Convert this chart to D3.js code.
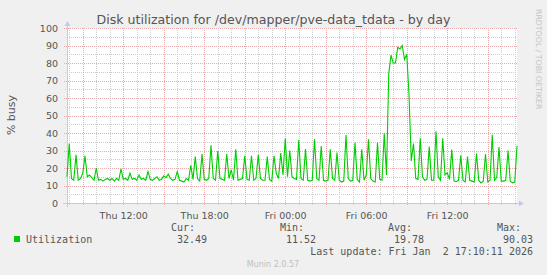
<!DOCTYPE html>
<html>
<head>
<meta charset="utf-8">
<script src="https://cdn.jsdelivr.net/npm/d3@7"></script>
<style>
  body { margin: 0; background: #F0F0F0; }
  text { white-space: pre; }
</style>
</head>
<body>
<svg id="chart" width="547" height="275"></svg>
<script>
// Series: disk utilization (% busy), one sample every 10 minutes
const startTime = new Date(2026, 0, 1, 7, 50, 11);
const endTime = new Date(2026, 0, 2, 17, 10, 11);
const stepMinutes = 10;
const utilization = [
  15, 34, 14, 13, 27.5, 13, 14, 17, 27, 15,
  16, 14.5, 13, 20, 13, 13.5, 12.5, 13.5, 14, 13,
  14, 12.5, 14, 13, 19.5, 13.5, 14, 13, 17, 13.5,
  14, 13, 16, 13.5, 14, 13, 18, 13.5, 13, 14,
  15, 13, 13.5, 15.5, 14.5, 16.5, 14, 13, 13.5, 18,
  13, 12.5, 12, 14, 13, 21.5, 13.5, 26.5, 14, 12.5,
  28, 13.5, 13, 14, 33, 14, 13, 29.7, 14, 13.5,
  13, 28, 14, 19, 13, 30.7, 13, 13.5, 14, 27,
  13.5, 13, 27, 13, 14, 27.5, 14, 13, 13, 26.5,
  13.5, 12.5, 27, 17, 14, 28.5, 16, 37, 15, 30,
  15, 14, 13.5, 36, 14, 13, 30.8, 13, 12.5, 13,
  36.4, 14, 13, 32.6, 13, 12.5, 13, 30.7, 14, 13,
  28.8, 13, 12, 12.5, 38.9, 14, 12.5, 13, 34.5, 13.5,
  12, 30.7, 13, 16, 36.4, 14, 12.5, 12, 34.5, 13.5,
  13, 39.8, 16, 74, 84.5, 80, 80, 89, 88, 90,
  82, 85, 62, 24, 34, 14, 13.5, 37, 15, 13,
  13.5, 32.2, 13, 13, 41, 15, 13, 37, 16, 17.3,
  13.5, 30.5, 12.7, 12.2, 13, 27.2, 13, 12, 26.5, 13,
  12.5, 12, 28.3, 13, 11.5, 12.5, 28, 12, 13, 39,
  13, 14.5, 32, 12.5, 12.5, 13, 30, 12.5, 11.5, 12,
  32.49
];

// Legend
const seriesName = "Utilization";
const statLabels = ["Cur:", "Min:", "Avg:", "Max:"];
const statValues = ["32.49", "11.52", "19.78", "90.03"];
const lastUpdate = "Last update: Fri Jan  2 17:10:11 2026";

// Axis ticks
const yMajor = d3.range(0, 101, 10);
const yMinor = d3.range(5, 100, 10);

const svg = d3.select("#chart");
const plotLeft = 67, plotRight = 517, plotTop = 28, plotBottom = 203;

const x = d3.scaleTime().domain([startTime, endTime]).range([plotLeft, plotRight]);
const y = d3.scaleLinear().domain([0, 100]).range([plotBottom, plotTop]);

const textColor = "#555";
const gridMinor = "#CDCDCD";
const gridMajor = "#E8AAAA";
const axisColor = "#C4C8F4";

// plot background
svg.append("rect")
  .attr("x", plotLeft).attr("y", plotTop)
  .attr("width", plotRight - plotLeft).attr("height", plotBottom - plotTop)
  .attr("fill", "#fff");

// grid
const hours = d3.timeHour.every(1).range(startTime, endTime);
const hours3 = hours.filter(d => d.getHours() % 3 === 0);

function vLines(list, color, tick) {
  list.forEach(d => {
    const px = Math.round(x(d)) + 0.5;
    svg.append("line")
      .attr("x1", px).attr("x2", px)
      .attr("y1", plotTop).attr("y2", plotBottom + tick)
      .attr("stroke", color)
      .attr("stroke-dasharray", "1,1");
  });
}
function hLines(list, color, tick) {
  list.forEach(v => {
    const py = Math.round(y(v)) + 0.5;
    svg.append("line")
      .attr("x1", plotLeft - tick).attr("x2", plotRight)
      .attr("y1", py).attr("y2", py)
      .attr("stroke", color)
      .attr("stroke-dasharray", "1,1");
  });
}
vLines(hours.filter(d => d.getHours() % 3 !== 0), gridMinor, 2);
hLines(yMinor, gridMinor, 2);
vLines(hours3, gridMajor, 3);
hLines(yMajor.filter(v => v > 0), gridMajor, 3);

// axis lines with arrows
svg.append("line")
  .attr("x1", plotLeft - 4).attr("x2", plotRight + 3)
  .attr("y1", plotBottom + 0.5).attr("y2", plotBottom + 0.5)
  .attr("stroke", axisColor);
svg.append("polygon")
  .attr("points", `${plotRight + 7},${plotBottom + 0.5} ${plotRight + 2},${plotBottom - 2.5} ${plotRight + 2},${plotBottom + 3.5}`)
  .attr("fill", axisColor);
svg.append("line")
  .attr("x1", plotLeft + 0.5).attr("x2", plotLeft + 0.5)
  .attr("y1", plotBottom + 4).attr("y2", plotTop - 3)
  .attr("stroke", axisColor);
svg.append("polygon")
  .attr("points", `${plotLeft + 0.5},${plotTop - 7} ${plotLeft - 2.5},${plotTop - 2} ${plotLeft + 3.5},${plotTop - 2}`)
  .attr("fill", axisColor);

// axes labels
const xAxis = svg.append("g")
  .attr("transform", `translate(0,${plotBottom})`)
  .call(d3.axisBottom(x)
    .ticks(d3.timeHour.every(6))
    .tickFormat(d3.timeFormat("%a %H:%M"))
    .tickSize(0).tickPadding(9));
xAxis.select(".domain").remove();
xAxis.selectAll("text")
  .attr("fill", textColor)
  .style("font-family", "DejaVu Sans")
  .style("font-size", "9.5px");

const yAxis = svg.append("g")
  .attr("transform", `translate(${plotLeft - 6},0)`)
  .call(d3.axisLeft(y).tickValues(yMajor).tickSize(0).tickPadding(3));
yAxis.select(".domain").remove();
yAxis.selectAll("text")
  .attr("fill", textColor)
  .style("font-family", "DejaVu Sans")
  .style("font-size", "9.5px");

// data line
const line = d3.line()
  .x((d, i) => x(d3.timeMinute.offset(startTime, i * stepMinutes)))
  .y(d => y(d));

svg.append("path")
  .datum(utilization)
  .attr("d", line)
  .attr("fill", "none")
  .attr("stroke", "#00CC00")
  .attr("stroke-width", 1.1);

// titles
svg.append("text")
  .attr("x", 273.5).attr("y", 24)
  .attr("text-anchor", "middle")
  .attr("fill", textColor)
  .style("font-family", "DejaVu Sans")
  .style("font-size", "12.6px")
  .text("Disk utilization for /dev/mapper/pve-data_tdata - by day");

svg.append("text")
  .attr("transform", "translate(15,115) rotate(-90)")
  .attr("text-anchor", "middle")
  .attr("fill", textColor)
  .style("font-family", "DejaVu Sans")
  .style("font-size", "11px")
  .text("% busy");

svg.append("text")
  .attr("transform", "translate(535.5,9) rotate(90)")
  .attr("fill", "#C4C4C4")
  .style("font-family", "DejaVu Sans")
  .style("font-size", "7.8px")
  .text("RRDTOOL / TOBI OETIKER");

// legend
const mono = "DejaVu Sans Mono";
const colStart = [171, 280, 388, 497];
const colEnd = [207, 316, 424, 533];

statLabels.forEach((s, i) => {
  svg.append("text")
    .attr("x", colStart[i]).attr("y", 231)
    .attr("fill", textColor)
    .style("font-family", mono).style("font-size", "10px")
    .text(s);
  svg.append("text")
    .attr("x", colEnd[i]).attr("y", 243)
    .attr("text-anchor", "end")
    .attr("fill", textColor)
    .style("font-family", mono).style("font-size", "10px")
    .text(statValues[i]);
});

svg.append("rect")
  .attr("x", 14).attr("y", 236)
  .attr("width", 6).attr("height", 6)
  .attr("fill", "#00CC00");
svg.append("text")
  .attr("x", 26).attr("y", 243)
  .attr("fill", textColor)
  .style("font-family", mono).style("font-size", "10px")
  .text(seriesName);

svg.append("text")
  .attr("x", 533).attr("y", 255)
  .attr("text-anchor", "end")
  .attr("fill", textColor)
  .style("font-family", mono).style("font-size", "10px")
  .text(lastUpdate);

svg.append("text")
  .attr("x", 273).attr("y", 267)
  .attr("text-anchor", "middle")
  .attr("fill", "#C0C0C0")
  .style("font-family", "DejaVu Sans")
  .style("font-size", "8px")
  .text("Munin 2.0.57");
</script>
</body>
</html>
